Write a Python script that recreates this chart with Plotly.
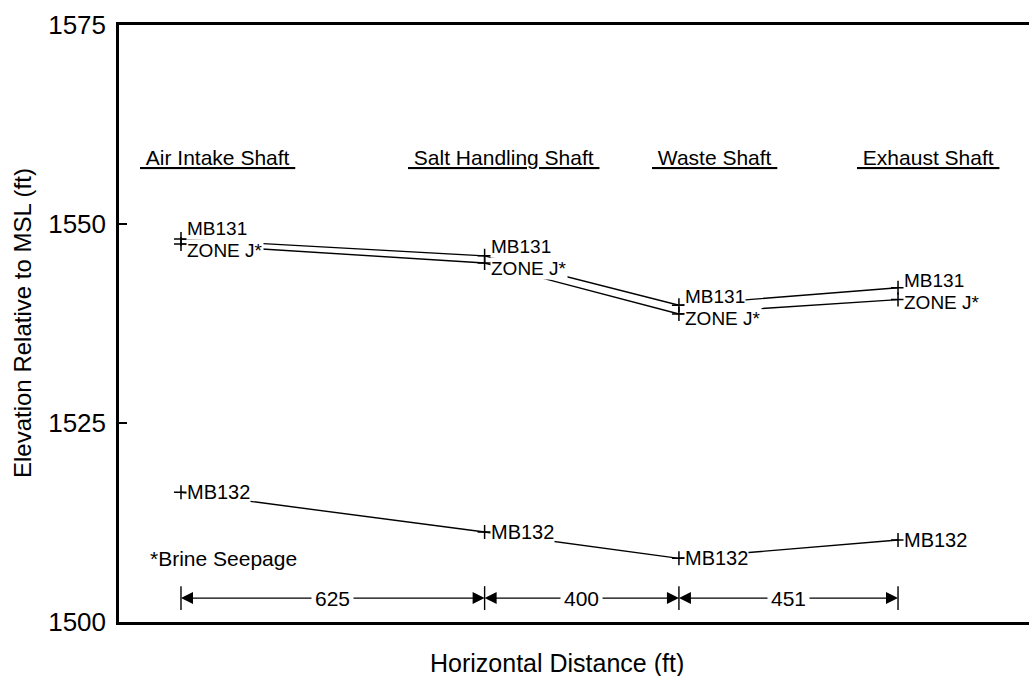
import numpy as np
import plotly.graph_objects as go

# ---------------- data ----------------
shafts = ["Air Intake Shaft", "Salt Handling Shaft", "Waste Shaft", "Exhaust Shaft"]
spacing_ft = [625, 400, 451]                       # horizontal distances between shafts
mb131 = [1548.1, 1546.0, 1539.8, 1542.0]           # MB131 elevation (ft MSL)
zone_j = [1547.5, 1545.1, 1538.7, 1540.5]          # ZONE J elevation (ft MSL)
mb132 = [1516.3, 1511.3, 1508.0, 1510.3]           # MB132 elevation (ft MSL)
y_ticks = [1500, 1525, 1550, 1575]

shaft_x = np.concatenate([[0], np.cumsum(spacing_ft)]).tolist()

# ---------------- style / layout constants ----------------
FONT = "Liberation Sans, Arial, Helvetica, sans-serif"
LBL = 19
HDR = 21
X_RANGE = [-127.6, 1745.6]
Y_RANGE = [1500, 1575]
SHAFT_LABEL_Y = 1558.3
SHAFT_XSHIFT = [37, 19, 36, 30]
DIM_Y = 1503.0
DIM_HALF = 1.5

fig = go.Figure()

marker = dict(symbol="cross-thin", size=10, line=dict(color="black", width=1.5), color="black")
for ys in (mb131, zone_j, mb132):
    fig.add_trace(go.Scatter(x=shaft_x, y=ys, mode="lines+markers",
                             line=dict(color="black", width=1.4), marker=marker,
                             showlegend=False, hoverinfo="skip"))

# dimension ticks
tx, ty = [], []
for xv in shaft_x:
    tx += [xv, xv, None]
    ty += [DIM_Y - DIM_HALF, DIM_Y + DIM_HALF, None]
fig.add_trace(go.Scatter(x=tx, y=ty, mode="lines", line=dict(color="black", width=1.4),
                         showlegend=False, hoverinfo="skip"))

ann = []
# point labels
for xv, a, b in zip(shaft_x, mb131, zone_j):
    mid = (a + b) / 2
    ann.append(dict(x=xv, y=mid, xref="x", yref="y", text="MB131", showarrow=False,
                    xanchor="left", yanchor="middle", xshift=5, yshift=13,
                    bgcolor="white", borderpad=0, font=dict(size=LBL, color="black", family=FONT)))
for xv, a, b in zip(shaft_x, mb131, zone_j):
    mid = (a + b) / 2
    ann.append(dict(x=xv, y=mid, xref="x", yref="y", text="ZONE J*", showarrow=False,
                    xanchor="left", yanchor="middle", xshift=5, yshift=-9,
                    bgcolor="white", borderpad=0, font=dict(size=LBL, color="black", family=FONT)))
for xv, c in zip(shaft_x, mb132):
    ann.append(dict(x=xv, y=c, xref="x", yref="y", text="MB132", showarrow=False,
                    xanchor="left", yanchor="middle", xshift=5,
                    bgcolor="white", borderpad=0, font=dict(size=20, color="black", family=FONT)))

# shaft headers
for name, xv, xs in zip(shafts, shaft_x, SHAFT_XSHIFT):
    ann.append(dict(x=xv, y=SHAFT_LABEL_Y, xref="x", yref="y",
                    text="<u>&nbsp;" + name + "&nbsp;</u>", showarrow=False,
                    xanchor="center", yanchor="middle", xshift=xs,
                    font=dict(size=HDR, color="black", family=FONT)))

# dimension arrows
for i, d in enumerate(spacing_ft):
    x0, x1 = shaft_x[i], shaft_x[i + 1]
    xm = (x0 + x1) / 2
    for xe in (x0, x1):
        ann.append(dict(x=xe, y=DIM_Y, ax=xm, ay=DIM_Y, xref="x", yref="y", axref="x", ayref="y",
                        text="", showarrow=True, arrowhead=2, arrowsize=2.0, arrowwidth=1.2,
                        arrowcolor="black", standoff=0, startstandoff=0))
    ann.append(dict(x=xm, y=DIM_Y, xref="x", yref="y", text=str(d), showarrow=False,
                    xanchor="center", yanchor="middle", bgcolor="white", borderpad=3,
                    font=dict(size=HDR, color="black", family=FONT)))

# note
ann.append(dict(x=-68, y=1508.0, xref="x", yref="y", text="*Brine Seepage", showarrow=False,
                xanchor="left", yanchor="middle", font=dict(size=HDR, color="black", family=FONT)))

# axis titles
ann.append(dict(x=0.481, y=-0.0687, xref="paper", yref="paper", text="Horizontal Distance (ft)",
                showarrow=False, xanchor="center", yanchor="middle",
                font=dict(size=25, color="black", family=FONT)))
ann.append(dict(x=-0.1066, y=0.5008, xref="paper", yref="paper", text="Elevation Relative to MSL (ft)",
                showarrow=False, xanchor="center", yanchor="middle", textangle=-90,
                font=dict(size=24, color="black", family=FONT)))

fig.update_layout(
    width=1029, height=676,
    margin=dict(l=119, r=0, t=25, b=54),
    paper_bgcolor="white", plot_bgcolor="white",
    annotations=ann,
    font=dict(family=FONT, color="black"),
    xaxis=dict(range=X_RANGE, showline=True, mirror=True, linecolor="black", linewidth=3,
               showticklabels=False, ticks="", showgrid=False, zeroline=False, fixedrange=True),
    yaxis=dict(range=Y_RANGE, tickvals=y_ticks, showline=True, linecolor="black", linewidth=2.5,
               ticks="inside", ticklen=8, tickwidth=2, tickcolor="black", ticklabelstandoff=5,
               tickfont=dict(size=26, color="black", family=FONT),
               showgrid=False, zeroline=False, fixedrange=True),
)

fig.write_html("out.html", config={"displayModeBar": False},
               post_script="document.body.style.margin='0';document.body.style.overflow='hidden';")
